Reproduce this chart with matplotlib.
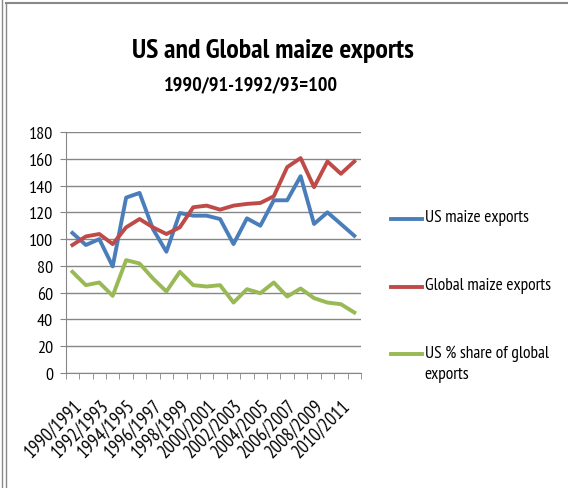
import matplotlib
matplotlib.use("Agg")
import matplotlib.pyplot as plt
from matplotlib.lines import Line2D
import numpy as np

plt.rcParams['font.family'] = ['PT Sans Narrow', 'DejaVu Sans']

years = [f"{y}/{y+1}" for y in range(1990, 2012)]
us_exports = [104.6, 95.6, 100, 79.6, 131, 134.5, 107.5, 90.6, 119.5, 117.5, 117.5,
              115, 96.3, 115.5, 110, 129, 129, 147, 111.3, 120, 111.3, 102.5]
global_exports = [95.6, 102, 103.8, 96.3, 108.8, 115, 108.8, 103.8, 108.8, 123.8, 125,
                  122, 125, 126.3, 127, 132, 153.8, 160.5, 138.8, 158, 148.8, 158]
us_share = [75.6, 65.6, 67.6, 57.6, 84.3, 81.8, 70.6, 60.9, 75.6, 65.6, 64.6,
            65.6, 52.6, 62.6, 59.6, 67.6, 57.1, 63.1, 55.9, 52.6, 51.4, 45.2]
labels = ["US maize exports", "Global maize exports", "US % share of global\nexports"]
colors = ["#4A7EBB", "#BE4B48", "#98B954"]
yticks = list(range(0, 181, 20))

fig = plt.figure(figsize=(5.68, 4.89), dpi=100)
ax = fig.add_axes([0.1157, 0.2352, 0.5199, 0.4928])

x = np.arange(len(years))
lines = []
for series, lab, c in zip([us_exports, global_exports, us_share], labels, colors):
    ln, = ax.plot(x, series, color=c, lw=2.8, label=lab, solid_joinstyle='round')
    lines.append(ln)

ax.set_xlim(-0.5, len(years) - 0.5)
ax.set_ylim(0, 180)
ax.set_yticks(yticks)
ax.yaxis.grid(True, color='#868686', lw=1)
ax.set_axisbelow(True)
for s in ['top', 'right']:
    ax.spines[s].set_visible(False)
for s in ['left', 'bottom']:
    ax.spines[s].set_color('#868686')
ax.tick_params(axis='y', length=4, color='#868686', labelsize=13, pad=5)
ax.set_xticks(np.arange(-0.5, len(years), 1), minor=True)
ax.tick_params(axis='x', which='minor', length=4, color='#868686')
ax.set_xticks(x[::2])
ax.set_xticklabels(years[::2], rotation=45, ha='right', va='top',
                   rotation_mode='anchor', fontsize=13.5)
ax.tick_params(axis='x', which='major', length=0, pad=16)

fig.text(0.48, 0.881, "US and Global maize exports", ha='center', va='baseline',
         fontsize=20, fontweight='bold')
fig.text(0.441, 0.816, "1990/91-1992/93=100", ha='center', va='baseline',
         fontsize=14.5, fontweight='bold')

# legend (drawn at right of plot)
leg_y = [0.550, 0.411, 0.274]
for ln, lab, yy in zip(lines, labels, leg_y):
    fig.add_artist(Line2D([0.688, 0.743], [yy, yy], color=ln.get_color(), lw=2.8))
    fig.text(0.748, yy + 0.020, lab, ha='left', va='top', fontsize=12.5, linespacing=1.4)

fig.add_artist(Line2D([0.0035, 0.0035], [0, 1], color='#888888', lw=1))
fig.add_artist(Line2D([0.0105, 0.0105], [0, 0.99], color='#888888', lw=1))
fig.add_artist(Line2D([0.0105, 1], [0.991, 0.991], color='#888888', lw=1.5))

fig.savefig("out.png", dpi=100)
